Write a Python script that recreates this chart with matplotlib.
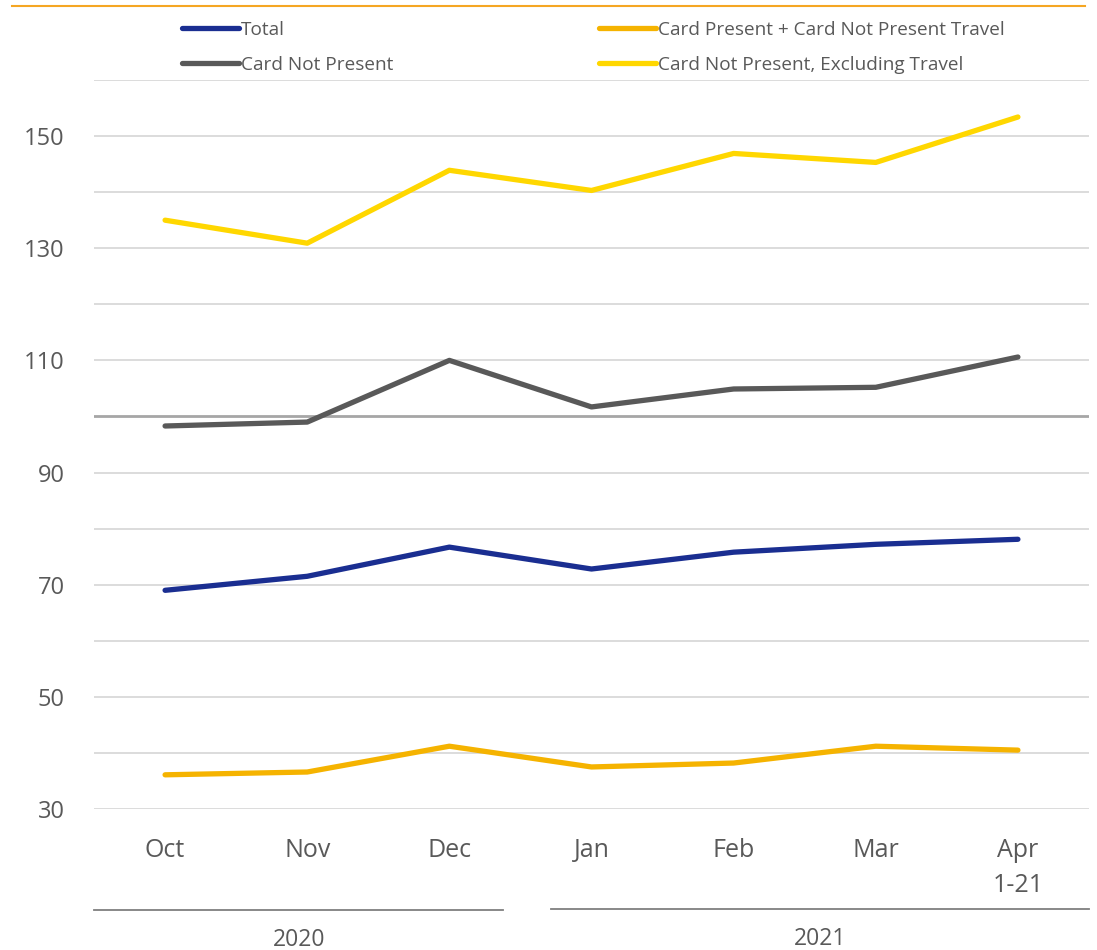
import matplotlib.pyplot as plt
from matplotlib.lines import Line2D
import numpy as np

plt.rcParams['font.family'] = ['Open Sans', 'DejaVu Sans']

months = ['Oct', 'Nov', 'Dec', 'Jan', 'Feb', 'Mar', 'Apr\n1-21']
years = ['2020', '2021']
total = [69.0, 71.5, 76.7, 72.8, 75.8, 77.2, 78.1]
cp_travel = [36.1, 36.6, 41.2, 37.5, 38.2, 41.2, 40.5]
cnp = [98.3, 99.0, 110.0, 101.7, 104.9, 105.2, 110.6]
cnp_ex_travel = [135.0, 130.9, 143.9, 140.3, 146.9, 145.3, 153.4]

txt = '#595959'

fig = plt.figure(figsize=(10.97, 9.5), dpi=100)
ax = fig.add_axes([0.0857, 0.1484, 0.9070, 0.7674])

x = np.arange(len(months))
for val in range(30, 161, 10):
    if val == 100:
        ax.axhline(val, color='#A6A6A6', lw=2, zorder=1)
    else:
        ax.axhline(val, color='#D9D9D9', lw=1.3, zorder=1)

series = [
    (total, '#1A2E91', 'Total'),
    (cnp, '#595959', 'Card Not Present'),
    (cp_travel, '#F5B300', 'Card Present + Card Not Present Travel'),
    (cnp_ex_travel, '#FFD700', 'Card Not Present, Excluding Travel'),
]
handles = []
for vals, col, lab in series:
    h, = ax.plot(x, vals, color=col, lw=3.8, solid_capstyle='round',
                 solid_joinstyle='round', label=lab, zorder=3)
    handles.append(h)

ax.set_xlim(-0.5, len(months) - 0.5)
ax.set_ylim(30, 160)
ax.set_yticks(range(30, 151, 20))
ax.set_xticks(x)
ax.set_xticklabels(months, color=txt, fontsize=18, va='top', linespacing=1.5)
ax.tick_params(axis='y', length=0, pad=21, labelsize=17, labelcolor=txt)
ax.tick_params(axis='x', length=0, pad=21)
for s in ax.spines.values():
    s.set_visible(False)

leg = fig.legend(handles, [h.get_label() for h in handles], ncol=2,
                 loc='upper left', bbox_to_anchor=(0.150, 0.996),
                 frameon=False, fontsize=13.7, labelcolor=txt,
                 handlelength=3.0, handletextpad=0.1, columnspacing=10.8,
                 labelspacing=0.9)

# year brackets under the month labels
fig.add_artist(Line2D([94 / 1097, 503 / 1097], [1 - 910 / 950] * 2, color='#7F7F7F', lw=1.3))
fig.add_artist(Line2D([551 / 1097, 1089 / 1097], [1 - 909 / 950] * 2, color='#7F7F7F', lw=1.3))
fig.text(299 / 1097, 1 - 940 / 950, years[0], ha='center', va='center', fontsize=16.5, color=txt)
fig.text(820 / 1097, 1 - 939 / 950, years[1], ha='center', va='center', fontsize=16.5, color=txt)

# orange rule along the top edge
fig.add_artist(Line2D([12 / 1097, 1085 / 1097], [1 - 6 / 950] * 2, color='#F5A623', lw=1.5))

plt.savefig('out.png', dpi=100)
